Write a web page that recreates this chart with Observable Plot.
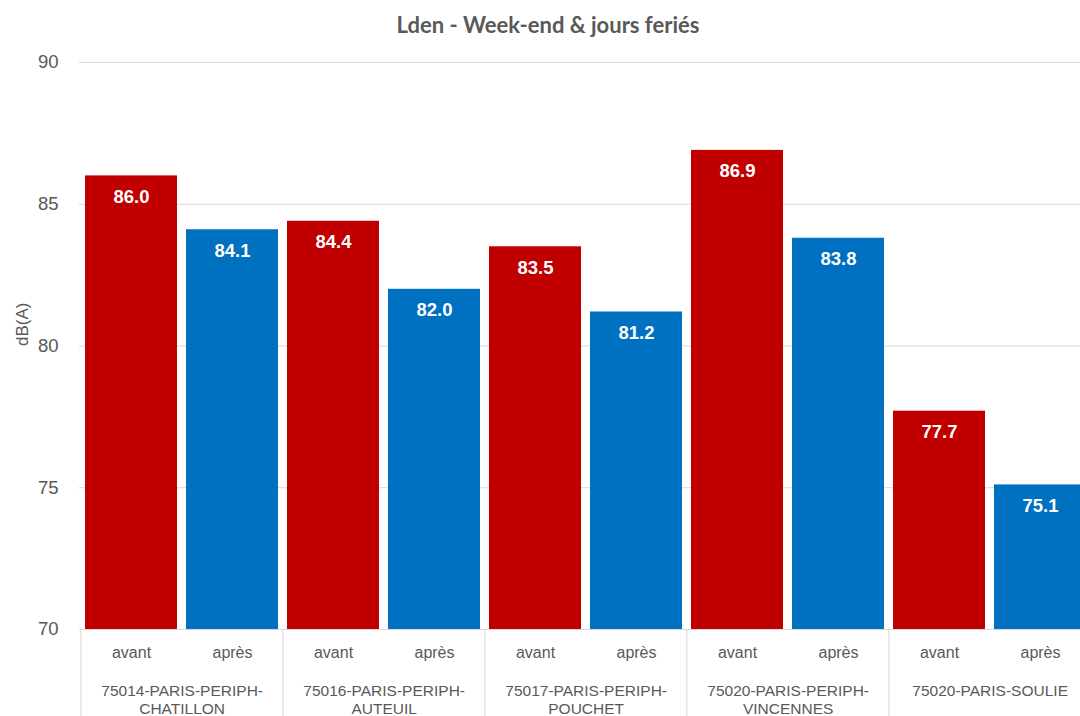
<!DOCTYPE html>
<html>
<head>
<meta charset="utf-8">
<script src="https://cdn.jsdelivr.net/npm/d3@7"></script>
<script src="https://cdn.jsdelivr.net/npm/@observablehq/plot@0.6"></script>
<style>
  html, body { margin: 0; padding: 0; background: #fff; overflow: hidden; width: 1080px; height: 716px; }
  #title { width: 1080px; height: 44px; box-sizing: border-box; padding: 14px 0 0 16px; text-align: center;
    font-family: Lato, "Open Sans", sans-serif; font-weight: 700; font-size: 22px; line-height: 22px; color: #595959; }
  #chart { width: 1080px; overflow: hidden; }
  #chart svg { display: block; max-width: none !important; }
</style>
</head>
<body>
<div id="title">Lden - Week-end &amp; jours feriés</div>
<div id="chart"></div>
<script>
const title = "Lden - Week-end & jours feriés";
const stations = ["75014-PARIS-PERIPH-CHATILLON", "75016-PARIS-PERIPH-AUTEUIL", "75017-PARIS-PERIPH-POUCHET", "75020-PARIS-PERIPH-VINCENNES", "75020-PARIS-SOULIE"];
const stationLabels = ["75014-PARIS-PERIPH-\nCHATILLON", "75016-PARIS-PERIPH-\nAUTEUIL", "75017-PARIS-PERIPH-\nPOUCHET", "75020-PARIS-PERIPH-\nVINCENNES", "75020-PARIS-SOULIE"];
const periods = ["avant", "après"];
const avantValues = [86.0, 84.4, 83.5, 86.9, 77.7];
const apresValues = [84.1, 82.0, 81.2, 83.8, 75.1];
const periodColors = ["#c00000", "#0070c0"];
const yDomain = [70, 90];
const yTicks = [70, 75, 80, 85, 90];
const yLabel = "dB(A)";

const W = 1092, H = 672, ML = 79, MR = 0, MT = 18, MB = 87;
const step = (W - ML - MR) / (stations.length * periods.length);

const key = (s, p) => s + "|" + p;
const data = [];
stations.forEach((s, i) => {
  data.push({station: s, period: periods[0], key: key(s, periods[0]), value: avantValues[i]});
  data.push({station: s, period: periods[1], key: key(s, periods[1]), value: apresValues[i]});
});
const groups = stations.map((s, i) => ({station: s, label: stationLabels[i], key: key(s, periods[0])}));

const font = "'Liberation Sans', Arial, sans-serif";
const plot = Plot.plot({
  width: W, height: H,
  marginLeft: ML, marginRight: MR, marginTop: MT, marginBottom: MB,
  style: {fontFamily: font, background: "#fff", color: "#595959", maxWidth: "none"},
  x: {domain: data.map(d => d.key), paddingInner: 0.09, paddingOuter: 0.045, axis: null},
  y: {domain: yDomain, axis: null},
  color: {domain: periods, range: periodColors},
  marks: [
    Plot.gridY(yTicks, {stroke: "#d9d9d9", strokeOpacity: 1, strokeWidth: 1}),
    Plot.axisY(yTicks, {tickSize: 0, tickPadding: 21, fontSize: 18.5, fill: "#595959", label: null}),
    Plot.text([yLabel], {frameAnchor: "left", rotate: -90, dx: -57, fontSize: 17, fill: "#595959"}),
    Plot.barY(data, {x: "key", y1: yDomain[0], y2: "value", fill: "period"}),
    Plot.text(data, {x: "key", y: "value", text: d => d.value.toFixed(1), dy: 21, fill: "white", fontWeight: "bold", fontSize: 18.5}),
    Plot.text(data, {x: "key", text: "period", frameAnchor: "bottom", dy: 28, fontSize: 16, fill: "#595959"}),
    Plot.text(groups, {x: "key", text: "label", frameAnchor: "bottom", dx: step / 2, dy: 53, lineAnchor: "top", lineHeight: 1.19, fontSize: 15.5, fill: "#595959"}),
    Plot.ruleX(groups, {x: "key", dx: -step / 2, stroke: "#d9d9d9", strokeWidth: 1, insetTop: H - MT - MB, insetBottom: -MB})
  ]
});
document.getElementById("chart").appendChild(plot);
</script>
</body>
</html>
